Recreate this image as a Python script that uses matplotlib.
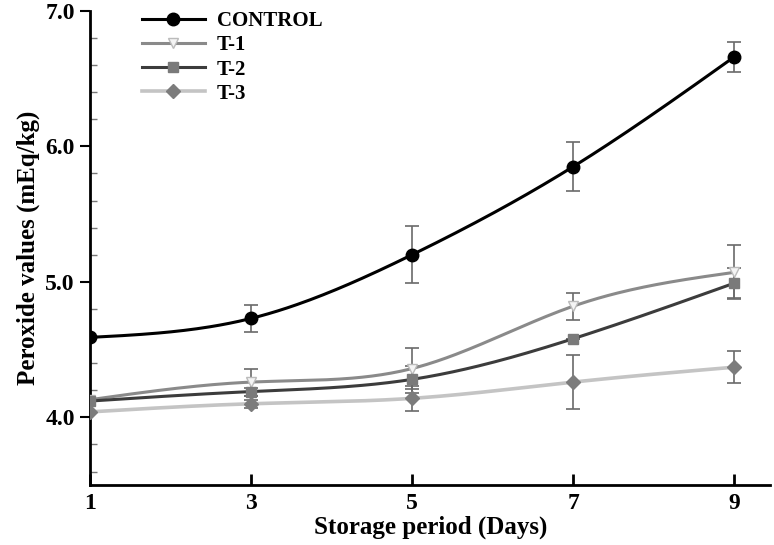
import matplotlib

matplotlib.use("Agg")
import matplotlib.pyplot as plt
import numpy as np
from matplotlib.ticker import MultipleLocator

plt.rcParams["font.family"] = ["Liberation Serif", "DejaVu Serif"]
plt.rcParams["font.weight"] = "bold"

days = [1, 3, 5, 7, 9]
control = [4.59, 4.73, 5.20, 5.85, 6.66]
control_err = [0.0, 0.10, 0.21, 0.18, 0.11]
t1 = [4.13, 4.26, 4.36, 4.82, 5.07]
t1_err = [0.0, 0.10, 0.15, 0.10, 0.20]
t2 = [4.12, 4.19, 4.28, 4.58, 4.99]
t2_err = [0.0, 0.03, 0.10, 0.0, 0.11]
t3 = [4.04, 4.10, 4.14, 4.26, 4.37]
t3_err = [0.0, 0.03, 0.09, 0.20, 0.12]


def smooth(x, y, n=200):
    # natural cubic spline through the points, only for drawing the curve
    x = np.asarray(x, float)
    y = np.asarray(y, float)
    k = len(x)
    h = np.diff(x)
    A = np.zeros((k, k))
    r = np.zeros(k)
    A[0, 0] = A[-1, -1] = 1
    for i in range(1, k - 1):
        A[i, i - 1] = h[i - 1]
        A[i, i] = 2 * (h[i - 1] + h[i])
        A[i, i + 1] = h[i]
        r[i] = 6 * ((y[i + 1] - y[i]) / h[i] - (y[i] - y[i - 1]) / h[i - 1])
    m = np.linalg.solve(A, r)
    xs = np.linspace(x[0], x[-1], n)
    idx = np.clip(np.searchsorted(x, xs) - 1, 0, k - 2)
    x0, x1 = x[idx], x[idx + 1]
    hh = x1 - x0
    a = (x1 - xs) / hh
    b = (xs - x0) / hh
    ys = a * y[idx] + b * y[idx + 1] + ((a**3 - a) * m[idx] + (b**3 - b) * m[idx + 1]) * hh**2 / 6
    return xs, ys


series = [
    ("CONTROL", control, control_err, "#000000", "o", "#000000", "#000000", 9, 2.2),
    ("T-1", t1, t1_err, "#8a8a8a", "v", "#f4f4f4", "#bbbbbb", 7, 2.2),
    ("T-2", t2, t2_err, "#3c3c3c", "s", "#7a7a7a", "#7a7a7a", 7, 2.2),
    ("T-3", t3, t3_err, "#c4c4c4", "D", "#7c7c7c", "#7c7c7c", 7, 2.6),
]

fig = plt.figure(figsize=(7.74, 5.45), dpi=100)
ax = fig.add_axes([0.1163, 0.110, 0.879, 0.870])

for name, vals, err, lc, mk, mfc, mec, ms, lw in series:
    xs, ys = smooth(days, vals)
    ax.plot(xs, ys, color=lc, lw=lw, zorder=3)
    ax.errorbar(days, vals, yerr=err, fmt="none", ecolor="#6a6a6a",
                elinewidth=1.2, capsize=5, capthick=1.2, zorder=2)
    ax.plot(days, vals, ls="none", marker=mk, ms=ms, mfc=mfc, mec=mec, zorder=4)
    ax.plot([], [], color=lc, lw=lw, marker=mk, ms=ms, mfc=mfc, mec=mec, label=name)

ax.set_xlim(1, 9.45)
ax.set_ylim(3.5, 7.0)
ax.set_xticks(days)
ax.yaxis.set_major_locator(MultipleLocator(1.0))
ax.yaxis.set_minor_locator(MultipleLocator(0.2))
ax.set_yticks([4.0, 5.0, 6.0, 7.0])
ax.set_yticklabels(["4.0", "5.0", "6.0", "7.0"])

for s in ["top", "right"]:
    ax.spines[s].set_visible(False)
for s in ["left", "bottom"]:
    ax.spines[s].set_linewidth(2)

ax.tick_params(axis="x", direction="in", length=8, width=2, labelsize=17, pad=6)
ax.tick_params(axis="y", which="major", direction="out", length=7, width=1.5, labelsize=17, pad=4)
ax.tick_params(axis="y", which="minor", direction="in", length=5, width=1, color="#777777")

ax.set_xlabel("Storage period (Days)", fontsize=18, fontweight="bold", labelpad=1)
ax.set_ylabel("Peroxide values (mEq/kg)", fontsize=18, fontweight="bold", labelpad=4)

leg = ax.legend(loc="upper left", bbox_to_anchor=(0.055, 1.03), frameon=False,
                fontsize=15, handlelength=3.0, labelspacing=0.2, borderpad=0.2,
                handletextpad=0.6)
for t in leg.get_texts():
    t.set_fontweight("bold")

fig.savefig("out.png", dpi=100)
